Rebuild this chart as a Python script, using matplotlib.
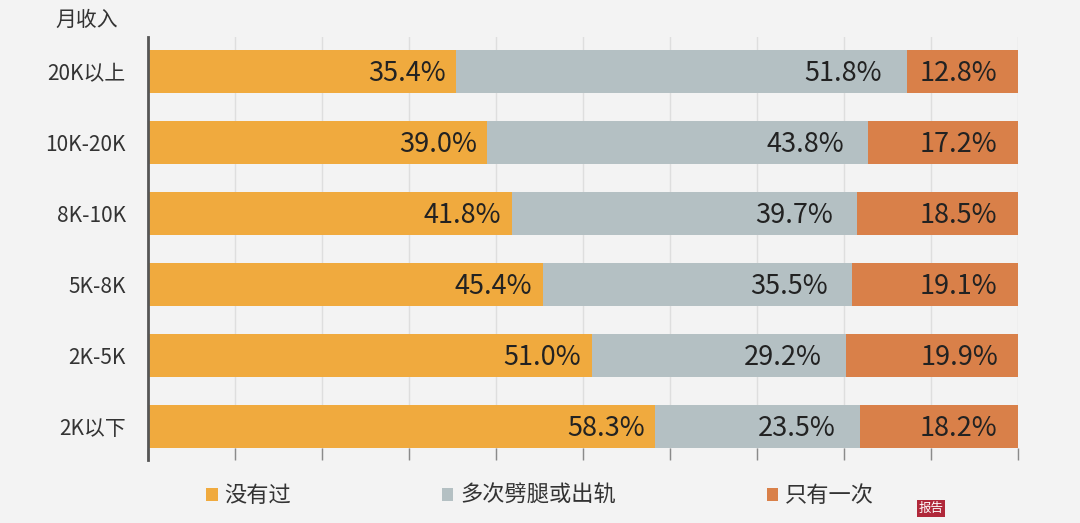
import matplotlib
matplotlib.use('Agg')
import matplotlib.pyplot as plt
from matplotlib.patches import Patch

plt.rcParams['font.family'] = ['Noto Sans CJK SC', 'DejaVu Sans']

# data, bottom row first
categories = ['2K以下', '2K-5K', '5K-8K', '8K-10K', '10K-20K', '20K以上']
never = [58.3, 51.0, 45.4, 41.8, 39.0, 35.4]
many_times = [23.5, 29.2, 35.5, 39.7, 43.8, 51.8]
only_once = [18.2, 19.9, 19.1, 18.5, 17.2, 12.8]
series_names = ['没有过', '多次劈腿或出轨', '只有一次']

bg = '#f3f3f3'
colors = ['#f0aa3e', '#b4c0c3', '#d98049']
label_pad = [1.2, 2.8, 2.4]  # gap between label and segment end, in %

fig = plt.figure(figsize=(10.8, 5.23), dpi=100, facecolor=bg)
ax = fig.add_axes([0.137, 0.1205, 0.8055, 0.8085], facecolor=bg)

y = list(range(len(categories)))
left = [0] * len(categories)
for vals, col, name, pad in zip([never, many_times, only_once], colors, series_names, label_pad):
    ax.barh(y, vals, left=left, height=0.6, color=col, label=name, zorder=2)
    for yi, l, v in zip(y, left, vals):
        ax.text(l + v - pad, yi - 0.03, f'{v:.1f}%', ha='right', va='center',
                fontsize=19.5, color='#222222', zorder=3)
    left = [a + b for a, b in zip(left, vals)]

ax.set_xlim(0, 100)
ax.set_ylim(-0.47, 5.48)
ax.set_xticks(range(0, 101, 10))
ax.set_xticklabels([])
ax.tick_params(axis='x', direction='in', length=9, width=1, color='#8a8a8a')
ax.set_yticks(y)
ax.set_yticklabels(categories, fontsize=15, color='#333333')
ax.tick_params(axis='y', length=0, pad=16)
ax.grid(axis='x', color='#dedede', linewidth=1, zorder=0)

for s in ['top', 'right', 'bottom']:
    ax.spines[s].set_visible(False)
ax.spines['left'].set_color('#555555')
ax.spines['left'].set_linewidth(2)

fig.text(0.08, 0.962, '月收入', fontsize=15, color='#333333', ha='center', va='center')

handles = [Patch(facecolor=c, edgecolor='none') for c in colors]
fig.legend(handles, series_names, loc='center', bbox_to_anchor=(0.5, 0.052),
           ncol=3, frameon=False, fontsize=16, handlelength=0.5, handleheight=0.5,
           handletextpad=0.3, columnspacing=6.8, labelcolor='#333333')

# small watermark tag
fig.text(0.862, 0.028, '报告', fontsize=9, color='white', ha='center', va='center',
         bbox=dict(boxstyle='square,pad=0.15', facecolor='#b0283a', edgecolor='none'))

fig.savefig('out.png', dpi=100, facecolor=bg)
